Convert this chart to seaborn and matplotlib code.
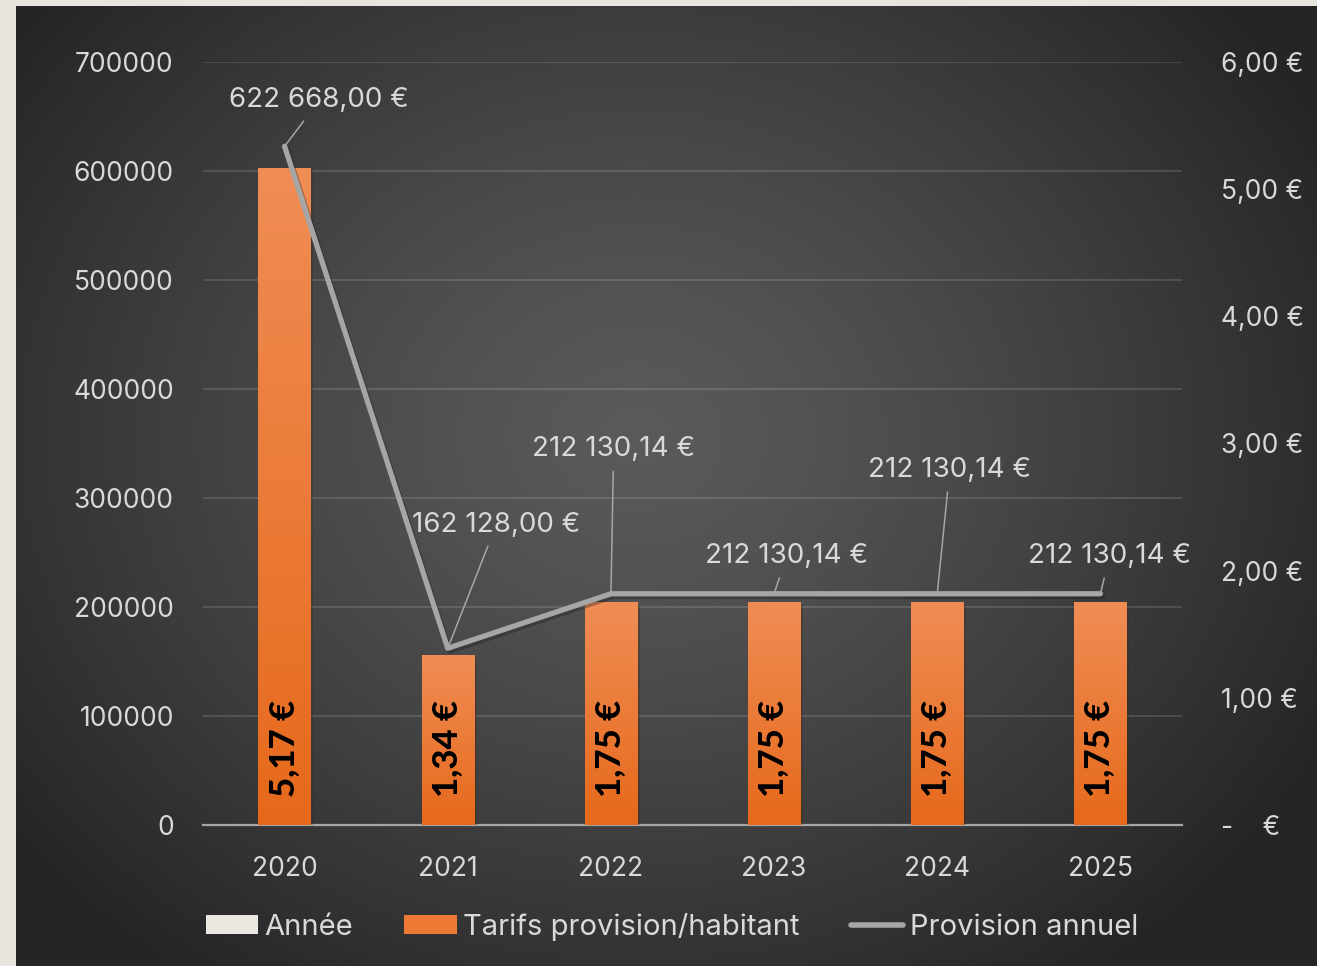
import numpy as np
import pandas as pd
import matplotlib
matplotlib.use("Agg")
import matplotlib.pyplot as plt
import seaborn as sns
from matplotlib.patches import Patch
from matplotlib.lines import Line2D
import matplotlib.patheffects as pe

# ---- data ----
years = [2020, 2021, 2022, 2023, 2024, 2025]
tarifs = [5.17, 1.34, 1.75, 1.75, 1.75, 1.75]
provision = [622668.00, 162128.00, 212130.14, 212130.14, 212130.14, 212130.14]
left_ticks = [0, 100000, 200000, 300000, 400000, 500000, 600000, 700000]
right_ticks = [0, 1, 2, 3, 4, 5, 6]
legend_labels = ["Année", "Tarifs provision/habitant", "Provision annuel"]

# label offsets (points) for the line data labels
label_offsets = [(25, 33), (35, 89), (2, 104), (9, 27), (9, 89), (6.5, 27)]

sns.set_theme(style="white")
plt.rcParams['font.family'] = ['Inter', 'DejaVu Sans']

TXT = "#d9d9d9"
LINE_C = "#a6a6a6"
FS = 19

W, H = 1317, 966
fig = plt.figure(figsize=(W / 100, H / 100), dpi=100)
fig.patch.set_facecolor("#e8e5de")

# background panel with radial gradient
bg = fig.add_axes([16 / W, 0, 1 - 16 / W, 1 - 6 / H], zorder=0)
yy, xx = np.mgrid[0:960, 0:1301]
cx, cy = 620, 430
r = np.sqrt(((xx - cx) / 1.0) ** 2 + ((yy - cy) / 0.85) ** 2)
t = np.clip(r / 780, 0, 1) ** 1.3
v = (0x5a - (0x5a - 0x25) * t) / 255.0
img = np.dstack([v, v, v])
bg.imshow(img, aspect="auto", extent=[0, 1, 0, 1], origin="upper")
bg.set_axis_off()

pos = [203 / W, 1 - 825 / H, (1182 - 203) / W, (825 - 62) / H]

# grid + left axis (provision)
ax = fig.add_axes(pos, zorder=1)
ax.patch.set_visible(False)
ax.set_ylim(0, 700000)
ax.set_yticks(left_ticks)
ax.set_yticklabels([str(t) for t in left_ticks])
ax.grid(axis="y", color="white", alpha=0.13, linewidth=1.5)
ax.set_xlim(years[0] - 0.5, years[-1] + 0.5)
ax.set_xticks(years)
ax.set_xticklabels([str(y) for y in years])
for s in ["top", "right", "left"]:
    ax.spines[s].set_visible(False)
ax.spines["bottom"].set_color(LINE_C)
ax.spines["bottom"].set_linewidth(1.6)
ax.tick_params(axis="y", length=0, pad=21, labelsize=FS, labelcolor=TXT)
ax.tick_params(axis="x", length=0, pad=22, labelsize=FS, labelcolor=TXT)

# bars (right axis, tarifs)
axr = fig.add_axes(pos, zorder=2, sharex=ax)
axr.patch.set_visible(False)
df = pd.DataFrame({"year": years, "tarif": tarifs, "prov": provision})
sns.barplot(data=df, x="year", y="tarif", native_scale=True, width=0.32,
            color="#ee7a35", saturation=1, ax=axr, zorder=2,
            edgecolor="none", linewidth=0)
axr.set_ylim(0, 6)
axr.set_xlim(years[0] - 0.5, years[-1] + 0.5)
axr.yaxis.tick_right()
axr.set_yticks(right_ticks)
axr.set_yticklabels([f"{t},00 €" if t else "-    €" for t in right_ticks])
axr.tick_params(axis="y", length=0, pad=28, labelsize=FS, labelcolor=TXT)
axr.tick_params(axis="x", length=0, labelbottom=False)
axr.set_xlabel("")
axr.set_ylabel("")
for s in axr.spines.values():
    s.set_visible(False)

# gradient fill of bars (with soft shadow)
grad = np.linspace(0, 1, 256).reshape(-1, 1)
top_c = np.array([0xf0, 0x8d, 0x55]) / 255
bot_c = np.array([0xe6, 0x69, 0x1b]) / 255
grad_img = top_c[None, None, :] * (1 - grad[..., None]) + bot_c[None, None, :] * grad[..., None]
for bar in list(axr.patches):
    bar.set_path_effects([pe.SimplePatchShadow(offset=(2, -1.5), alpha=0.3), pe.Normal()])
    x0, y0 = bar.get_x(), bar.get_y()
    w, h = bar.get_width(), bar.get_height()
    im = axr.imshow(grad_img, extent=[x0, x0 + w, y0, y0 + h], aspect="auto",
                    origin="upper", zorder=2.5)
    im.set_clip_path(bar)
axr.set_xlim(years[0] - 0.5, years[-1] + 0.5)
axr.set_ylim(0, 6)

# bar labels
for yr, tv in zip(years, tarifs):
    axr.annotate(f"{tv:.2f}".replace(".", ",") + " €", xy=(yr, 0), xytext=(0, 20),
                 textcoords="offset points", rotation=90, ha="center", va="bottom",
                 fontsize=25, fontweight="black", color="black",
                 family=["Lato", "DejaVu Sans"], zorder=5)

# line (provision)
axl = fig.add_axes(pos, zorder=3, sharex=ax)
axl.patch.set_visible(False)
sns.lineplot(data=df, x="year", y="prov", color=LINE_C, linewidth=3.8, ax=axl,
             solid_capstyle="round",
             path_effects=[pe.SimpleLineShadow(offset=(1.5, -2), alpha=0.35),
                           pe.Normal()])
axl.set_ylim(0, 700000)
axl.set_xlim(years[0] - 0.5, years[-1] + 0.5)
axl.set_axis_off()


def fr(v):
    s = f"{v:,.2f}"
    s = s.replace(",", " ").replace(".", ",")
    return s + " €"


for yr, pv, off in zip(years, provision, label_offsets):
    axl.annotate(fr(pv), xy=(yr, pv), xytext=off, textcoords="offset points",
                 ha="center", va="center", fontsize=20, color=TXT,
                 arrowprops=dict(arrowstyle="-", color=LINE_C, lw=1.1,
                                 shrinkA=4, shrinkB=0))

# legend
handles = [
    Patch(facecolor="#ebe8e1", edgecolor="none"),
    Patch(facecolor="#ee7a35", edgecolor="none"),
    Line2D([0], [0], color=LINE_C, linewidth=4, solid_capstyle="round"),
]
leg = fig.legend(handles, legend_labels, loc="center", bbox_to_anchor=(672 / W, 1 - 927 / H),
                 ncol=3, frameon=False, fontsize=21, handlelength=1.8, handleheight=0.62,
                 handletextpad=0.22, columnspacing=1.75)
for t in leg.get_texts():
    t.set_color(TXT)

fig.savefig("out.png", dpi=100, facecolor=fig.get_facecolor())
